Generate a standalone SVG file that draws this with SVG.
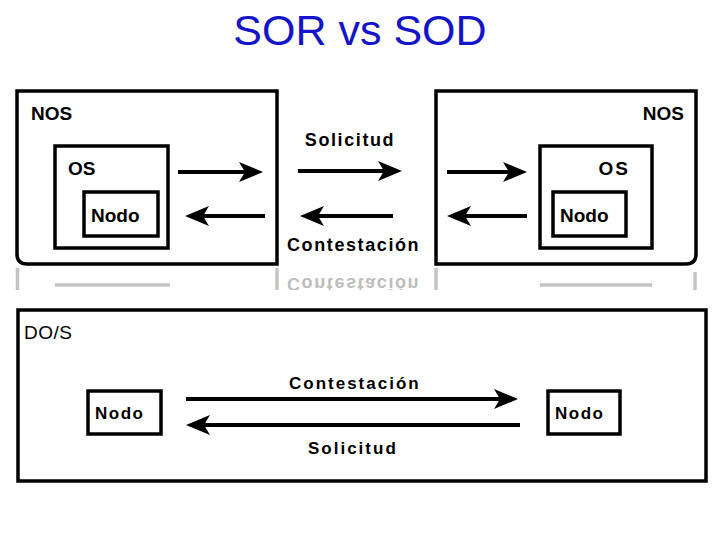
<svg xmlns="http://www.w3.org/2000/svg" width="720" height="540" viewBox="0 0 720 540">
<defs>
<style>
.box{fill:#fff;stroke:#000;stroke-width:3.5}
.frame{fill:none;stroke:#000;stroke-width:3.5}
.lbl{font-family:"Liberation Sans",Arial,sans-serif;font-weight:bold;font-size:19px;fill:#000}
.lab{font-family:"Liberation Sans",Arial,sans-serif;font-weight:bold;font-size:18px;fill:#000;letter-spacing:1.6px}
.lab2{font-family:"Liberation Sans",Arial,sans-serif;font-weight:bold;font-size:17px;fill:#000;letter-spacing:2px}
.arr{fill:none;stroke:#000;stroke-width:4}
.refl{fill:none;stroke:#c4c4c4;stroke-width:3.5}
</style>
<marker id="ah" markerUnits="userSpaceOnUse" markerWidth="28" markerHeight="22" refX="16" refY="10" orient="auto">
<path d="M0,0 L24,10 L0,20 L6,10 z" fill="#000"/>
</marker>
<clipPath id="rc"><rect x="0" y="268" width="720" height="22"/></clipPath>
</defs>
<rect width="720" height="540" fill="#fff"/>
<text x="360" y="45" text-anchor="middle" font-family="'Liberation Sans',Arial,sans-serif" font-size="43" fill="#1414c8">SOR vs SOD</text>

<g id="reflection" clip-path="url(#rc)">
<line class="refl" x1="17.5" y1="268" x2="17.5" y2="295"/>
<line class="refl" x1="277" y1="268" x2="277" y2="295"/>
<line class="refl" x1="55" y1="285" x2="170" y2="285"/>
<line class="refl" x1="436" y1="268" x2="436" y2="295"/>
<line class="refl" x1="695" y1="272" x2="695" y2="295"/>
<line class="refl" x1="540" y1="285" x2="652" y2="285"/>
<text class="lab" x="287" y="270" transform="translate(0,548) scale(1,-1)" style="fill:#bdbdbd">Contestación</text>
</g>

<g id="nos-left">
<path class="frame" d="M17,91 H277 V264 H27 Q17,264 17,254 Z"/>
<text class="lbl" x="31" y="120">NOS</text>
</g>
<g id="os-left">
<rect class="box" x="55" y="146" width="113" height="102"/>
<text class="lbl" x="68" y="175">OS</text>
</g>
<g id="nodo-left">
<rect class="box" x="84" y="192" width="74" height="44"/>
<text class="lbl" x="91" y="222">Nodo</text>
</g>

<g id="nos-right">
<path class="frame" d="M436,91 H696 V254 Q696,264 686,264 H436 Z"/>
<text class="lbl" x="684" y="120" text-anchor="end">NOS</text>
</g>
<g id="os-right">
<rect class="box" x="540" y="146" width="112" height="102"/>
<text class="lbl" x="630" y="175" text-anchor="end" style="letter-spacing:2px">OS</text>
</g>
<g id="nodo-right">
<rect class="box" x="553" y="192" width="73" height="44"/>
<text class="lbl" x="560" y="222">Nodo</text>
</g>

<g id="dos">
<rect class="frame" x="18" y="310" width="688" height="171"/>
<text class="lab2" x="24" y="339" style="font-size:19px;font-weight:normal;letter-spacing:0.5px">DO/S</text>
</g>
<g id="nodo-bl">
<rect class="box" x="88" y="391" width="73" height="43"/>
<text class="lab2" x="95" y="419" style="letter-spacing:1.5px">Nodo</text>
</g>
<g id="nodo-br">
<rect class="box" x="548" y="391" width="72" height="43"/>
<text class="lab2" x="555" y="419" style="letter-spacing:1.5px">Nodo</text>
</g>

<g id="connectors">
<line class="arr" x1="178" y1="172" x2="255" y2="172" marker-end="url(#ah)"/>
<line class="arr" x1="265" y1="216" x2="193" y2="216" marker-end="url(#ah)"/>
<line class="arr" x1="298" y1="171" x2="394" y2="171" marker-end="url(#ah)"/>
<line class="arr" x1="393" y1="216" x2="308" y2="216" marker-end="url(#ah)"/>
<line class="arr" x1="447" y1="172" x2="519" y2="172" marker-end="url(#ah)"/>
<line class="arr" x1="527" y1="216" x2="455" y2="216" marker-end="url(#ah)"/>
<line class="arr" x1="186" y1="399" x2="510" y2="399" marker-end="url(#ah)"/>
<line class="arr" x1="520" y1="425" x2="194" y2="425" marker-end="url(#ah)"/>
</g>

<g id="labels">
<text class="lab" x="350" y="146" text-anchor="middle">Solicitud</text>
<text class="lab" x="287" y="251">Contestación</text>
<text class="lab2" x="289" y="389">Contestación</text>
<text class="lab2" x="308" y="454">Solicitud</text>
</g>
</svg>
